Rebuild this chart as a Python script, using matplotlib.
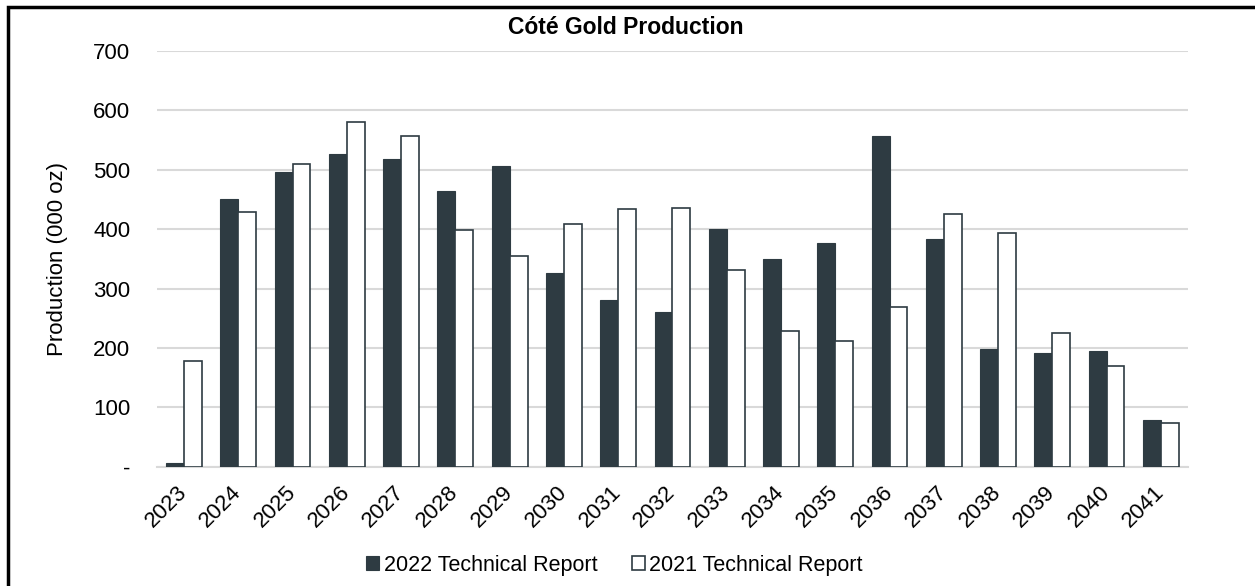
import numpy as np
import matplotlib.pyplot as plt
from matplotlib.patches import Rectangle

plt.rcParams['font.family'] = ['Liberation Sans', 'DejaVu Sans']

years = [str(y) for y in range(2023, 2042)]
report_2022 = [7, 451, 496, 527, 518, 464, 506, 326, 280, 261, 400, 350, 376, 557, 384, 199, 192, 195, 78]
report_2021 = [178, 429, 509, 580, 556, 398, 354, 409, 434, 436, 331, 228, 212, 269, 426, 393, 225, 170, 74]
yticks = [0, 100, 200, 300, 400, 500, 600, 700]
ytick_labels = ['-', '100', '200', '300', '400', '500', '600', '700']

dark = '#2e3b42'
x = np.arange(len(years))
w = 0.33

fig = plt.figure(figsize=(12.55, 5.86), dpi=100)
ax = fig.add_axes([0.125, 0.2036, 0.8216, 0.7094])

ax.bar(x - w/2, report_2022, w, color=dark, edgecolor=dark, linewidth=0.8,
       label='2022 Technical Report', zorder=3)
ax.bar(x + w/2, report_2021, w, color='white', edgecolor=dark, linewidth=1.2,
       label='2021 Technical Report', zorder=3)

ax.set_xlim(-0.5, len(years) - 0.5)
ax.set_ylim(0, 700)
ax.set_yticks(yticks)
ax.set_yticklabels(ytick_labels, fontsize=16)
ax.set_xticks(x)
ax.set_xticklabels(years, rotation=45, ha='right', va='center',
                   rotation_mode='anchor', fontsize=16)
ax.tick_params(axis='y', length=0, pad=19)
ax.tick_params(axis='x', length=0, pad=16)
ax.grid(axis='y', color='#d9d9d9', linewidth=1.5, zorder=0)
for s in ['top', 'right', 'left']:
    ax.spines[s].set_visible(False)
ax.spines['bottom'].set_color('#d9d9d9')
ax.spines['bottom'].set_linewidth(1.5)

ax.set_ylabel('Production (000 oz)', fontsize=16)
ax.yaxis.set_label_coords(-0.0865, 0.5)
fig.text(0.499, 0.953, 'Cóté Gold Production', ha='center', va='center',
         fontsize=16.5, fontweight='bold')

ax.legend(loc='upper center', bbox_to_anchor=(0.4437, -0.165), ncol=2, frameon=False,
          fontsize=15.5, handlelength=0.6, handleheight=0.6, handletextpad=0.2,
          columnspacing=1.6)

fig.patches.append(Rectangle((8/1255, -0.1), 1.2, 1 - 7/586 + 0.1,
                             transform=fig.transFigure, fill=False,
                             edgecolor='black', linewidth=2.5))

fig.savefig('out.png', dpi=100)
